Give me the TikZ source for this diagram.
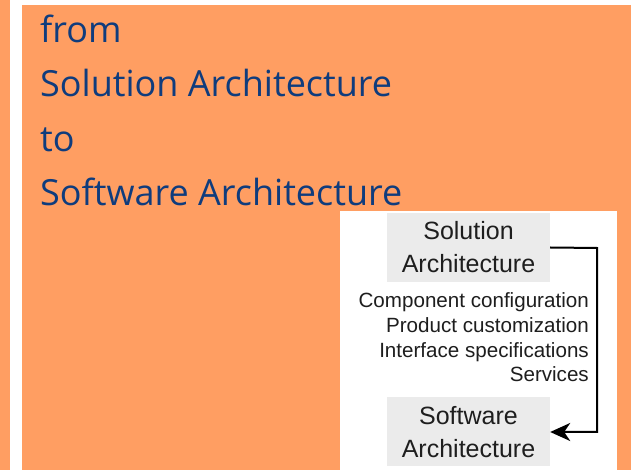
\documentclass[tikz,border=0pt]{standalone}
\usepackage{fontspec}
\setmainfont{Open Sans}
\newfontfamily\boxfont{Liberation Sans}
\usetikzlibrary{arrows.meta}
\definecolor{slideorange}{HTML}{FF9E62}
\definecolor{titleblue}{HTML}{0F3C7D}
\definecolor{boxgray}{HTML}{EBEBEB}
\definecolor{inktext}{HTML}{1E1E1E}
\begin{document}
\begin{tikzpicture}[x=1pt,y=-1pt,
  titleline/.style={anchor=base west,inner sep=0pt,text=titleblue,font=\fontsize{36}{42}\selectfont},
  archbox/.style={fill=boxgray,minimum width=163pt,minimum height=69pt,inner sep=0pt,
    align=center,text=inktext,font=\boxfont\fontsize{25}{33}\selectfont},
  itemline/.style={anchor=base east,inner sep=0pt,text=inktext,font=\boxfont\fontsize{20.6}{24}\selectfont},
  flow/.style={draw=black,line width=2pt,-{Stealth[length=20pt,width=18pt,inset=6pt]}}]
  % page frame
  \useasboundingbox (0,0) rectangle (638,470);
  \fill[white] (0,0) rectangle (638,470);
  \fill[slideorange] (0,0) rectangle (10,470);
  \fill[slideorange] (22,5) rectangle (631,470);
  % title
  \node[titleline] (t1) at (40,43) {from};
  \node[titleline] (t2) at (40,97) {Solution Architecture};
  \node[titleline] (t3) at (40,152) {to};
  \node[titleline] (t4) at (40,206) {Software Architecture};
  % inset panel
  \fill[white] (340,211) rectangle (617,470);
  \node[archbox] (sol) at (468.5,247.5) {Solution\\Architecture};
  \node[archbox] (soft) at (468.5,432) {Software\\Architecture};
  \node[itemline] (i1) at (589,308) {Component configuration};
  \node[itemline] (i2) at (589,333) {Product customization};
  \node[itemline] (i3) at (589,357.5) {Interface specifications};
  \node[itemline] (i4) at (589,382) {Services};
  \coordinate (bend) at (597,248);
  \draw[flow] (sol.east) -- (bend) |- (soft.east);
\end{tikzpicture}
\end{document}
